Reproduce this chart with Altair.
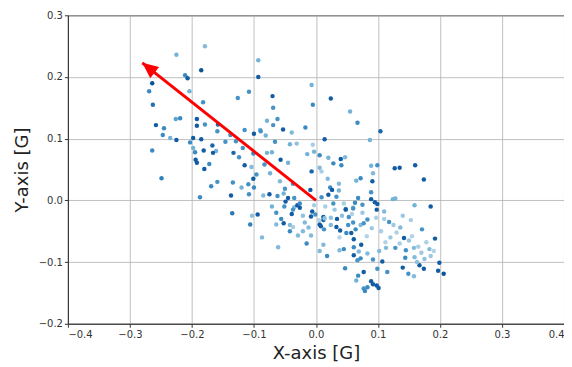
import altair as alt
import pandas as pd

# Scatter data (x [G], y [G], colour value 0..1 on the Blues scale)
x_vals = [
    -0.225, -0.179, -0.093, -0.185, -0.211, -0.207, -0.093, -0.264, -0.269, -0.204,
    -0.126, -0.108, -0.070, -0.182, -0.263, -0.069, -0.226, -0.219, -0.192, -0.079,
    -0.062, -0.258, -0.245, -0.192, -0.179, -0.158, -0.069, -0.053, -0.115, -0.090,
    -0.007, 0.024, -0.005, 0.055, 0.067, -0.017, 0.104,
    -0.247, -0.235, -0.225, -0.198, -0.185, -0.203, -0.159, -0.138, -0.100, -0.089,
    -0.081, -0.039, -0.066, -0.042, -0.031, -0.264, -0.198, -0.195, -0.181, -0.167,
    -0.161, -0.166, -0.146, -0.129, -0.133, -0.124, -0.118, -0.101, -0.079, -0.071,
    -0.194, -0.192, -0.172, -0.180, -0.115, -0.104, -0.083, -0.057, -0.045, -0.096,
    -0.101, -0.074, -0.058, -0.249, -0.169, -0.159, -0.134, -0.120, -0.109, -0.100,
    -0.108, -0.137, -0.187, -0.085, -0.075, -0.062, -0.052, -0.045, -0.035, -0.049,
    -0.071, -0.035, -0.030, -0.050, -0.037,
    0.014, 0.087, -0.005, -0.014, -0.003, 0.006, 0.020, 0.028, 0.040, 0.047,
    0.041, 0.006, 0.009, -0.007, 0.089, 0.099, 0.127, 0.135, 0.160, 0.092,
    0.019, 0.037, 0.072, 0.065, 0.091, 0.174, 0.023, 0.026, 0.037, -0.009,
    0.089, 0.020, 0.033, 0.009, 0.068, 0.089, 0.124, 0.128, 0.095, 0.099,
    0.075, 0.063, 0.028, 0.048, 0.060, 0.159, 0.185, -0.026, -0.003,
    -0.135, -0.103, -0.094, -0.106, -0.087, -0.061, -0.051, -0.064, -0.039, -0.037,
    -0.026, -0.056, -0.052, -0.064, -0.042, -0.037, -0.042, -0.029, -0.021, -0.018,
    -0.021, -0.012, -0.008, -0.015, -0.006, -0.008, -0.001, 0.006, 0.008, 0.012,
    0.012, 0.013, 0.012, 0.006,
    0.048, 0.060, 0.098, 0.110, 0.014, 0.024, 0.034, 0.042, 0.053, 0.052,
    0.060, 0.064, 0.072, 0.077, 0.083, 0.033, 0.039, 0.049, 0.057, 0.024,
    0.118, 0.136, 0.153, 0.171, 0.142, 0.192, 0.061, 0.073, 0.061, 0.069,
    0.045, 0.038, 0.018, 0.061, 0.072, 0.083, 0.092, 0.107, 0.113, 0.128,
    0.102, 0.145, 0.158, 0.183, 0.144, 0.159, 0.167, 0.174, 0.199, 0.197,
    0.206, 0.140, 0.163, 0.149, 0.158, 0.115, 0.099, 0.077, 0.047, 0.067,
    0.068, 0.065, 0.089, 0.092, 0.098, 0.101, 0.083, 0.077, 0.079,
    0.015, 0.030, 0.045, 0.075, 0.090, 0.105, 0.120, 0.135, 0.150, 0.170,
    0.175, 0.185, 0.165, 0.125, 0.110, 0.140,
    0.005, 0.038, 0.058, 0.082, 0.097, 0.112, 0.130, 0.155, 0.178, 0.190,
]
y_vals = [
    0.236, 0.250, 0.227, 0.211, 0.203, 0.198, 0.200, 0.190, 0.177, 0.177,
    0.166, 0.176, 0.169, 0.159, 0.155, 0.150, 0.132, 0.133, 0.132, 0.129,
    0.132, 0.122, 0.117, 0.121, 0.123, 0.123, 0.122, 0.115, 0.114, 0.114,
    0.187, 0.165, 0.155, 0.144, 0.126, 0.118, 0.112,
    0.106, 0.101, 0.098, 0.101, 0.099, 0.094, 0.112, 0.106, 0.108, 0.112,
    0.105, 0.110, 0.095, 0.091, 0.092, 0.081, 0.085, 0.078, 0.081, 0.089,
    0.080, 0.077, 0.095, 0.096, 0.077, 0.070, 0.085, 0.076, 0.077, 0.078,
    0.066, 0.061, 0.059, 0.051, 0.057, 0.054, 0.058, 0.066, 0.061, 0.042,
    0.035, 0.044, 0.031, 0.036, 0.023, 0.030, 0.029, 0.021, 0.026, 0.021,
    0.010, 0.008, 0.005, 0.008, 0.010, 0.007, 0.011, 0.004, 0.004, -0.002,
    -0.010, -0.011, -0.008, 0.019, 0.027,
    0.099, 0.098, 0.090, 0.075, 0.079, 0.073, 0.069, 0.060, 0.067, 0.070,
    0.057, 0.053, 0.047, 0.047, 0.056, 0.057, 0.052, 0.053, 0.057, 0.044,
    0.035, 0.027, 0.036, 0.032, 0.031, 0.034, 0.021, 0.017, 0.016, 0.017,
    0.013, 0.009, 0.006, 0.005, 0.004, 0.002, 0.002, 0.003, -0.003, -0.006,
    -0.007, -0.004, -0.005, -0.014, -0.012, -0.008, -0.010, -0.005, -0.008,
    -0.021, -0.025, -0.023, -0.039, -0.060, -0.076, -0.010, -0.020, -0.022, -0.015,
    -0.012, -0.030, -0.037, -0.039, -0.040, -0.043, -0.050, -0.057, -0.050, -0.036,
    -0.025, -0.044, -0.057, -0.070, -0.018, -0.026, -0.023, -0.039, -0.042, -0.032,
    -0.027, -0.047, -0.072, -0.082,
    -0.015, -0.013, -0.015, -0.018, -0.029, -0.028, -0.030, -0.025, -0.027, -0.040,
    -0.036, -0.047, -0.040, -0.037, -0.031, -0.043, -0.049, -0.053, -0.053, -0.040,
    -0.035, -0.044, -0.032, -0.047, -0.061, -0.062, -0.063, -0.072, -0.076, -0.083,
    -0.079, -0.081, -0.090, -0.089, -0.094, -0.086, -0.096, -0.099, -0.077, -0.077,
    -0.082, -0.081, -0.077, -0.079, -0.093, -0.092, -0.105, -0.111, -0.101, -0.114,
    -0.119, -0.109, -0.100, -0.119, -0.123, -0.116, -0.111, -0.116, -0.110, -0.097,
    -0.122, -0.130, -0.131, -0.136, -0.138, -0.142, -0.141, -0.143, -0.147,
    -0.010, -0.015, -0.005, -0.020, -0.045, -0.050, -0.060, -0.070, -0.065, -0.085,
    -0.095, -0.090, -0.075, -0.040, -0.030, -0.025,
    -0.032, -0.060, -0.022, -0.058, -0.028, -0.068, -0.052, -0.058, -0.068, -0.082,
]
shade_vals = [
    0.40, 0.35, 0.40, 0.95, 0.65, 0.90, 0.90, 0.95, 0.65, 0.40,
    0.60, 0.60, 0.90, 0.60, 0.80, 0.60, 0.50, 0.65, 0.90, 0.40,
    0.60, 0.90, 0.65, 0.90, 0.60, 0.85, 0.60, 0.90, 0.60, 0.40,
    0.40, 0.90, 0.65, 0.40, 0.65, 0.65, 0.85,
    0.65, 0.40, 0.90, 0.90, 0.90, 0.65, 0.60, 0.60, 0.90, 0.60,
    0.40, 0.35, 0.60, 0.40, 0.30, 0.65, 0.40, 0.65, 0.90, 0.85,
    0.40, 0.90, 0.60, 0.60, 0.85, 0.60, 0.60, 0.65, 0.40, 0.40,
    0.90, 0.90, 0.65, 0.90, 0.90, 0.35, 0.60, 0.90, 0.40, 0.60,
    0.90, 0.40, 0.35, 0.70, 0.65, 0.60, 0.60, 0.40, 0.60, 0.65,
    0.60, 0.90, 0.65, 0.35, 0.90, 0.60, 0.40, 0.90, 0.60, 0.90,
    0.40, 0.35, 0.90, 0.60, 0.60,
    0.90, 0.40, 0.20, 0.40, 0.40, 0.65, 0.40, 0.65, 0.90, 0.35,
    0.65, 0.35, 0.20, 0.85, 0.40, 0.60, 0.90, 0.90, 0.90, 0.35,
    0.35, 0.35, 0.65, 0.40, 0.90, 0.90, 0.65, 0.90, 0.40, 0.90,
    0.60, 0.90, 0.60, 0.60, 0.65, 0.90, 0.40, 0.40, 0.90, 0.90,
    0.60, 0.65, 0.60, 0.65, 0.40, 0.40, 0.90, 0.65, 0.20,
    0.75, 0.30, 0.90, 0.70, 0.35, 0.35, 0.60, 0.60, 0.90, 0.60,
    0.90, 0.65, 0.90, 0.35, 0.35, 0.20, 0.65, 0.35, 0.35, 0.35,
    0.30, 0.35, 0.35, 0.65, 0.90, 0.90, 0.60, 0.90, 0.90, 0.85,
    0.90, 0.60, 0.35, 0.35,
    0.90, 0.60, 0.90, 0.35, 0.30, 0.30, 0.90, 0.30, 0.60, 0.60,
    0.60, 0.65, 0.35, 0.60, 0.60, 0.90, 0.90, 0.65, 0.90, 0.35,
    0.60, 0.35, 0.20, 0.60, 0.90, 0.90, 0.90, 0.90, 0.65, 0.35,
    0.65, 0.35, 0.65, 0.90, 0.65, 0.35, 0.60, 0.90, 0.35, 0.60,
    0.35, 0.60, 0.35, 0.35, 0.65, 0.35, 0.90, 0.90, 0.90, 0.90,
    0.95, 0.90, 0.30, 0.60, 0.35, 0.60, 0.60, 0.90, 0.65, 0.60,
    0.65, 0.40, 0.90, 0.90, 0.90, 0.90, 0.65, 0.60, 0.65,
    0.20, 0.25, 0.20, 0.25, 0.25, 0.20, 0.25, 0.20, 0.25, 0.25,
    0.30, 0.25, 0.20, 0.25, 0.20, 0.25,
    0.15, 0.15, 0.18, 0.15, 0.18, 0.15, 0.18, 0.15, 0.18, 0.15,
]

# Arrow from origin
arrow_x = [0.0, -0.280]
arrow_y = [0.0, 0.223]
arrow_angle = [308.4]

x_ticks = [-0.4, -0.3, -0.2, -0.1, 0.0, 0.1, 0.2, 0.3, 0.4]
y_ticks = [-0.2, -0.1, 0.0, 0.1, 0.2, 0.3]

n = min(len(x_vals), len(y_vals), len(shade_vals))
pts = pd.DataFrame({"x": x_vals[:n], "y": y_vals[:n], "c": shade_vals[:n]})
arr = pd.DataFrame({"x": arrow_x, "y": arrow_y})
head = pd.DataFrame({"x": arrow_x[1:], "y": arrow_y[1:], "a": arrow_angle})

FONT = "DejaVu Sans"
MINUS = "replace(format(datum.value, '.1f'), '-', '\u2212')"
xscale = alt.Scale(domain=[-0.4, 0.4], nice=False, zero=False)
yscale = alt.Scale(domain=[-0.2, 0.3], nice=False, zero=False)
xaxis = alt.Axis(values=x_ticks, labelExpr=MINUS, title="X-axis [G]", titlePadding=5)
yaxis = alt.Axis(values=y_ticks, labelExpr=MINUS, title="Y-axis [G]", titlePadding=7)

points = alt.Chart(pts).mark_circle(size=20, opacity=1).encode(
    x=alt.X("x:Q", scale=xscale, axis=xaxis),
    y=alt.Y("y:Q", scale=yscale, axis=yaxis),
    color=alt.Color("c:Q", scale=alt.Scale(scheme="blues", domain=[0, 1]), legend=None),
)

line = alt.Chart(arr).mark_line(color="#ff0000", strokeWidth=3, strokeCap="butt").encode(
    x=alt.X("x:Q", scale=xscale),
    y=alt.Y("y:Q", scale=yscale),
)

arrowhead = alt.Chart(head).mark_point(
    shape="M0,0 L0.45,1 L-0.45,1 Z", filled=True, color="#ff0000", size=1000, opacity=1
).encode(
    x=alt.X("x:Q", scale=xscale),
    y=alt.Y("y:Q", scale=yscale),
    angle=alt.Angle("a:Q", scale=None),
)

chart = alt.layer(points, line, arrowhead).properties(
    width=497,
    height=309,
    autosize=alt.AutoSizeParams(type="none"),
    padding={"left": 60, "top": 7, "right": 0, "bottom": 40},
).configure_view(
    stroke="#333333", strokeWidth=1
).configure_axis(
    grid=True,
    gridColor="#b0b0b0",
    gridWidth=0.8,
    domainColor="#333333",
    tickColor="#333333",
    tickSize=3.5,
    labelFont=FONT,
    labelFontSize=10,
    labelColor="#333333",
    labelPadding=2,
    titleFont=FONT,
    titleFontSize=18,
    titleFontWeight="normal",
    titleColor="#222222",
)

chart.save("out.html", embed_options={"renderer": "svg", "actions": False})
